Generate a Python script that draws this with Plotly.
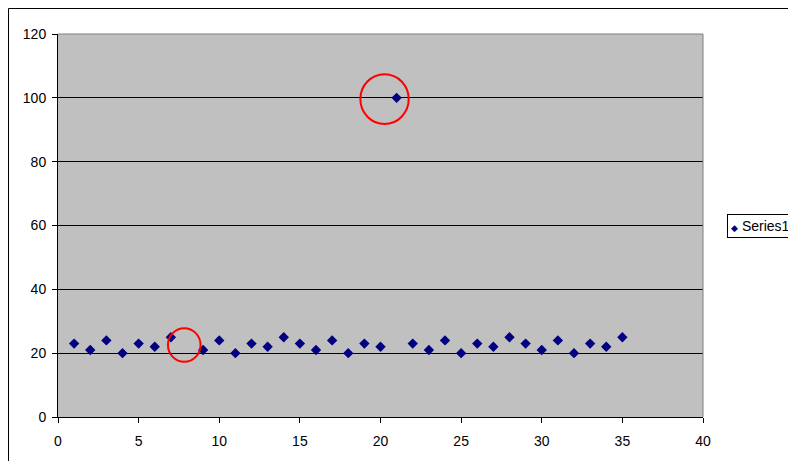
import plotly.graph_objects as go

# Data (x = 8 has no point)
x_values = [1, 2, 3, 4, 5, 6, 7, 9, 10, 11, 12, 13, 14, 15, 16, 17, 18, 19, 20,
            21, 22, 23, 24, 25, 26, 27, 28, 29, 30, 31, 32, 33, 34, 35]
y_values = [23, 21, 24, 20, 23, 22, 25, 21, 24, 20, 23, 22, 25, 23, 21, 24, 20, 23, 22,
            100, 23, 21, 24, 20, 23, 22, 25, 23, 21, 24, 20, 23, 22, 25]
series_name = "Series1"

x_ticks = [0, 5, 10, 15, 20, 25, 30, 35, 40]
y_ticks = [0, 20, 40, 60, 80, 100, 120]

# Red highlight circles (data coordinates: x0, x1, y0, y1)
circle_boxes = [
    (18.75, 21.75, 91.8, 107.4),
    (6.82, 8.84, 17.3, 27.8),
]

font = dict(family="Liberation Sans, Arial, sans-serif", size=14, color="black")

fig = go.Figure()
fig.add_trace(go.Scatter(
    x=x_values, y=y_values, mode="markers", name=series_name,
    marker=dict(symbol="diamond", size=8, color="#000080",
                line=dict(width=0)),
    showlegend=False,
))

shapes = []
for (cx0, cx1, cy0, cy1) in circle_boxes:
    shapes.append(dict(type="circle", xref="x", yref="y",
                       x0=cx0, x1=cx1, y0=cy0, y1=cy1,
                       line=dict(color="#FF0000", width=2), layer="above"))
# plot-area gray top and right borders
shapes.append(dict(type="line", xref="paper", yref="paper", x0=0, x1=1, y0=1, y1=1,
                   line=dict(color="#808080", width=1), layer="above"))
shapes.append(dict(type="line", xref="paper", yref="paper", x0=1, x1=1, y0=0, y1=1,
                   line=dict(color="#808080", width=1), layer="above"))
# outer chart-area border (left and top edges visible)
shapes.append(dict(type="rect", xref="paper", yref="paper",
                   x0=-49.5 / 645, x1=1.5, y0=-0.5, y1=(383 + 26 - 0.5) / 383,
                   line=dict(color="black", width=1), layer="below"))

fig.update_layout(
    width=796, height=461,
    margin=dict(l=50, r=101, t=26, b=52),
    paper_bgcolor="white",
    plot_bgcolor="#C0C0C0",
    font=font,
    shapes=shapes,
    annotations=[dict(
        xref="paper", yref="paper", x=1.0372, y=0.5,
        xanchor="left", yanchor="middle", showarrow=False, align="left",
        text="<span style='font-size:9px;color:#000080'>◆</span> " + series_name,
        font=font, bordercolor="black", borderwidth=1, borderpad=3,
        bgcolor="white",
    )],
)
fig.update_xaxes(
    range=[0, 40], tickvals=x_ticks, ticktext=[str(v) for v in x_ticks],
    showgrid=False, zeroline=False, showline=True, linecolor="black", linewidth=1,
    ticks="outside", ticklen=5, tickcolor="black", tickfont=font,
    ticklabelstandoff=6,
)
fig.update_yaxes(
    range=[0, 120], tickvals=y_ticks, ticktext=[str(v) for v in y_ticks],
    showgrid=True, gridcolor="black", gridwidth=1, zeroline=False,
    showline=True, linecolor="black", linewidth=1,
    ticks="outside", ticklen=5, tickcolor="black", tickfont=font,
    ticklabelstandoff=3,
)

fig.write_html("out.html")
